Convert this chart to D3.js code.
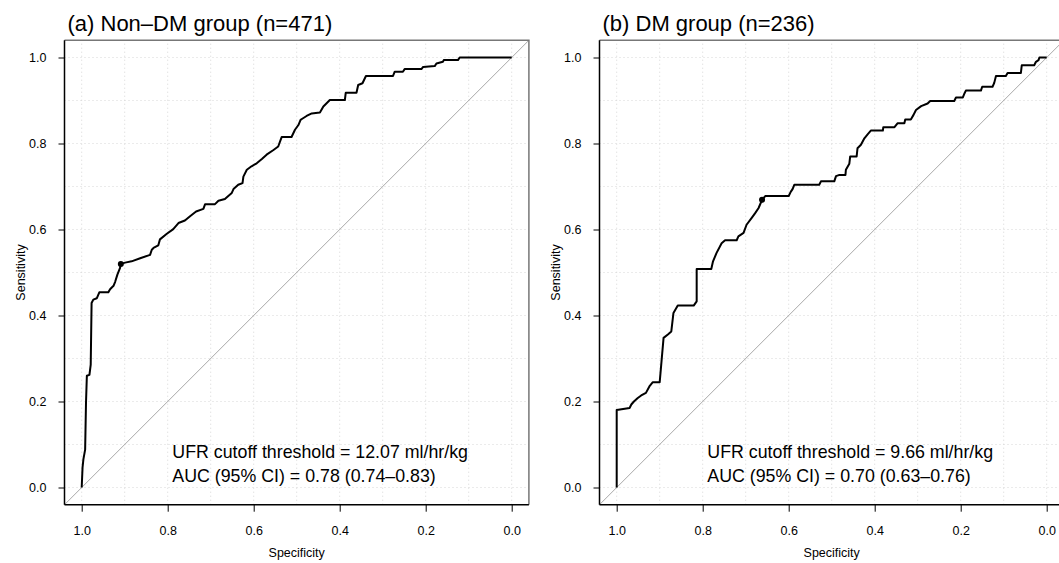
<!DOCTYPE html>
<html>
<head>
<meta charset="utf-8">
<script src="https://cdn.jsdelivr.net/npm/d3@7"></script>
<style>
  body { margin: 0; background: #fff; }
  svg text { font-family: "Liberation Sans", Arial, Helvetica, sans-serif; fill: #000; }
</style>
</head>
<body>
<div id="container"></div>
<script>
// ROC curve, non-DM group
const specA = [1.0, 0.998, 0.996, 0.992, 0.99, 0.988, 0.982, 0.979, 0.977, 0.973, 0.965, 0.959, 0.938, 0.934, 0.926,
  0.922, 0.917, 0.911, 0.909, 0.899, 0.884, 0.864, 0.841, 0.837, 0.833, 0.822, 0.818, 0.802, 0.787, 0.775,
  0.76, 0.748, 0.734, 0.717, 0.713, 0.69, 0.682, 0.667, 0.651, 0.647, 0.636, 0.626, 0.624, 0.616, 0.605,
  0.593, 0.581, 0.57, 0.554, 0.543, 0.535, 0.512, 0.504, 0.496, 0.491, 0.488, 0.477, 0.465, 0.446, 0.438,
  0.431, 0.423, 0.388, 0.386, 0.361, 0.357, 0.347, 0.339, 0.276, 0.272, 0.253, 0.249, 0.21, 0.206, 0.179,
  0.175, 0.16, 0.158, 0.125, 0.121, 0.0];
const sensA = [0, 0.047, 0.066, 0.088, 0.197, 0.26, 0.262, 0.286, 0.429, 0.437, 0.44, 0.454, 0.454, 0.461, 0.469,
  0.479, 0.495, 0.51, 0.52, 0.523, 0.526, 0.533, 0.541, 0.553, 0.557, 0.563, 0.577, 0.59, 0.601, 0.615,
  0.621, 0.631, 0.642, 0.648, 0.659, 0.659, 0.667, 0.671, 0.685, 0.694, 0.704, 0.708, 0.723, 0.739, 0.747,
  0.754, 0.764, 0.774, 0.785, 0.793, 0.815, 0.815, 0.832, 0.843, 0.855, 0.857, 0.864, 0.87, 0.872, 0.886,
  0.893, 0.901, 0.901, 0.918, 0.918, 0.936, 0.94, 0.957, 0.957, 0.967, 0.967, 0.973, 0.973, 0.978, 0.98,
  0.986, 0.99, 0.994, 0.994, 1.0, 1.0];
const cutA = [0.909, 0.52];

// ROC curve, DM group
const specB = [1, 1, 0.97, 0.966, 0.96, 0.951, 0.943, 0.932, 0.924, 0.916, 0.9, 0.891, 0.881, 0.873, 0.868,
  0.858, 0.821, 0.814, 0.814, 0.78, 0.776, 0.768, 0.756, 0.748, 0.721, 0.717, 0.705, 0.698, 0.686, 0.678,
  0.67, 0.662, 0.654, 0.6, 0.595, 0.591, 0.587, 0.529, 0.525, 0.494, 0.49, 0.482, 0.468, 0.467, 0.459,
  0.457, 0.442, 0.44, 0.432, 0.424, 0.416, 0.409, 0.381, 0.38, 0.354, 0.347, 0.331, 0.329, 0.316, 0.31,
  0.304, 0.292, 0.277, 0.271, 0.215, 0.211, 0.195, 0.191, 0.188, 0.153, 0.15, 0.126, 0.122, 0.118, 0.095,
  0.091, 0.06, 0.058, 0.029, 0.025, 0.019, 0.017, 0];
const sensB = [0, 0.18, 0.185, 0.193, 0.2, 0.208, 0.214, 0.22, 0.235, 0.245, 0.245, 0.348, 0.356, 0.363, 0.406,
  0.423, 0.423, 0.433, 0.508, 0.508, 0.526, 0.545, 0.568, 0.575, 0.575, 0.584, 0.592, 0.611, 0.627, 0.638,
  0.65, 0.669, 0.678, 0.678, 0.688, 0.694, 0.704, 0.704, 0.712, 0.712, 0.724, 0.727, 0.727, 0.739, 0.753,
  0.77, 0.77, 0.789, 0.797, 0.812, 0.822, 0.83, 0.83, 0.838, 0.838, 0.847, 0.847, 0.856, 0.856, 0.866,
  0.878, 0.887, 0.893, 0.899, 0.899, 0.907, 0.907, 0.917, 0.923, 0.923, 0.932, 0.932, 0.941, 0.957, 0.957,
  0.964, 0.964, 0.982, 0.982, 0.99, 0.994, 1.0, 1.0];
const cutB = [0.662, 0.669];

const titles = ["(a) Non\u2013DM group (n=471)", "(b) DM group (n=236)"];
const notes = [
  ["UFR cutoff threshold = 12.07 ml/hr/kg", "AUC (95% CI) = 0.78 (0.74\u20130.83)"],
  ["UFR cutoff threshold = 9.66 ml/hr/kg", "AUC (95% CI) = 0.70 (0.63\u20130.76)"]
];
const axisTicks = [0, 0.2, 0.4, 0.6, 0.8, 1.0];
const gridTicks = d3.range(0, 11).map(d => d / 10);

const width = 1059, height = 563;
const svg = d3.select("#container").append("svg")
  .attr("width", width).attr("height", height);

const panels = [
  { spec: specA, sens: sensA, cut: cutA, left: 81.7 },
  { spec: specB, sens: sensB, cut: cutB, left: 616.7 }
];

panels.forEach((p, i) => {
  const unit = 430;
  const x = d3.scaleLinear().domain([1, 0]).range([p.left, p.left + unit]);
  const y = d3.scaleLinear().domain([0, 1]).range([487.5, 487.5 - unit]);
  const g = svg.append("g");

  const x0 = x(1.04), x1 = x(-0.04), y0 = y(-0.04), y1 = y(1.04);

  // dotted grid
  g.append("g").selectAll("line").data(gridTicks).join("line")
    .attr("x1", d => x(d)).attr("x2", d => x(d)).attr("y1", y0).attr("y2", y1)
    .attr("stroke", "#d6d6d6").attr("stroke-width", 1).attr("stroke-dasharray", "1,3");
  g.append("g").selectAll("line").data(gridTicks).join("line")
    .attr("y1", d => y(d)).attr("y2", d => y(d)).attr("x1", x0).attr("x2", x1)
    .attr("stroke", "#d6d6d6").attr("stroke-width", 1).attr("stroke-dasharray", "1,3");

  // chance diagonal
  g.append("line")
    .attr("x1", x(1.04)).attr("y1", y(-0.04)).attr("x2", x(-0.04)).attr("y2", y(1.04))
    .attr("stroke", "#a8a8a8").attr("stroke-width", 1);

  // box: top/right gray, left/bottom black
  g.append("path").attr("d", `M${x0},${y1}H${x1}V${y0}`)
    .attr("fill", "none").attr("stroke", "#777").attr("stroke-width", 1.5);

  const line = d3.line().x(d => x(d[0])).y(d => y(d[1]));
  g.append("path")
    .datum(p.spec.map((s, k) => [s, p.sens[k]]))
    .attr("fill", "none").attr("stroke", "#000").attr("stroke-width", 2)
    .attr("stroke-linejoin", "round")
    .attr("d", line);

  g.append("circle").attr("cx", x(p.cut[0])).attr("cy", y(p.cut[1])).attr("r", 3).attr("fill", "#000");

  // axes
  const xAxis = g.append("g").attr("transform", `translate(0,${y0})`)
    .call(d3.axisBottom(x).tickValues(axisTicks).tickFormat(d3.format(".1f")).tickSize(7).tickPadding(14));
  xAxis.select(".domain").attr("d", `M${x0},0H${x1}`).attr("stroke", "#000").attr("stroke-width", 1.5);
  const yAxis = g.append("g").attr("transform", `translate(${x0},0)`)
    .call(d3.axisLeft(y).tickValues(axisTicks).tickFormat(d3.format(".1f")).tickSize(6).tickPadding(12));
  yAxis.select(".domain").attr("d", `M0,${y0}V${y1}`).attr("stroke", "#000").attr("stroke-width", 1.5);
  [xAxis, yAxis].forEach(a => a.selectAll("text").attr("font-size", 12.5)
    .style("font-family", "'Liberation Sans', Arial, Helvetica, sans-serif").attr("fill", "#000"));

  g.append("text").attr("x", (x0 + x1) / 2).attr("y", 557).attr("text-anchor", "middle")
    .attr("font-size", 12.5).text("Specificity");
  g.append("text").attr("transform", `translate(${x0 - 40},${(y0 + y1) / 2}) rotate(-90)`)
    .attr("text-anchor", "middle").attr("font-size", 12.5).text("Sensitivity");

  g.append("text").attr("x", x0 + 3).attr("y", 31).attr("font-size", 22).text(titles[i]);

  notes[i].forEach((t, k) => {
    g.append("text").attr("x", x(0.78) - 4).attr("y", 458 + k * 24)
      .attr("font-size", 17.8).text(t);
  });
});
</script>
</body>
</html>
